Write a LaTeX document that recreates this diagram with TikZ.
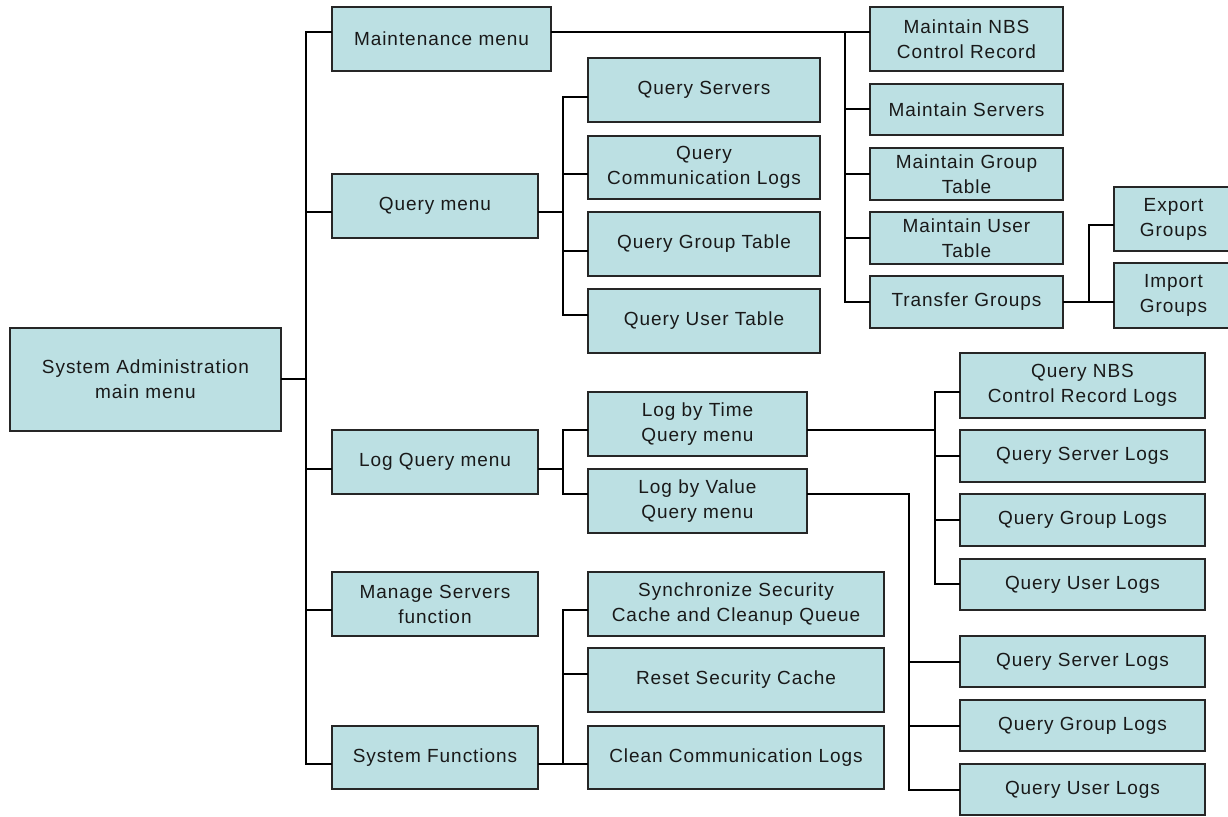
\documentclass[tikz,border=0pt]{standalone}
\usepackage{fontspec}
\setmainfont{Liberation Sans}
\newfontfamily\boxfont[LetterSpace=5]{Liberation Sans}
\definecolor{boxfill}{HTML}{BCE0E3}
\definecolor{boxline}{HTML}{262626}
\newcommand{\bx}[6]{%
  \pgfmathsetmacro\cx{(#2+#3)/2}\pgfmathsetmacro\cy{(#4+#5)/2}%
  \pgfmathsetmacro\ww{#3-#2}\pgfmathsetmacro\hh{#5-#4}%
  \node[box, minimum width=\ww pt, minimum height=\hh pt] (#1) at (\cx,\cy) {#6};}
% parent, parent y, trunk x, child, child y
\newcommand{\cn}[5]{\draw[conn] (#1.east |- 0,#2) -- (#3,#2) |- (#4.west |- 0,#5);}
\begin{document}
\begin{tikzpicture}[x=1pt,y=-1pt,
  box/.style={draw=boxline, fill=boxfill, line width=1.4pt, inner sep=0pt, outer sep=0pt,
    align=center, text=black!90, font=\boxfont\fontsize{19}{25}\selectfont},
  conn/.style={draw=black, line width=1.3pt}]
\useasboundingbox (0,0) rectangle (1228,816);
% level 1
\bx{main}{10}{281}{328}{431}{System Administration\\main menu}
% level 2
\bx{maint}{332}{551}{7}{71}{Maintenance menu}
\bx{qmenu}{332}{538}{174}{238}{Query menu}
\bx{lq}{332}{538}{430}{494}{Log Query menu}
\bx{ms}{332}{538}{572}{636}{Manage Servers\\function}
\bx{sf}{332}{538}{726}{789}{System Functions}
% query children
\bx{qs}{588}{820}{58}{122}{Query Servers}
\bx{qcl}{588}{820}{136}{199}{Query\\Communication Logs}
\bx{qgt}{588}{820}{212}{276}{Query Group Table}
\bx{qut}{588}{820}{289}{353}{Query User Table}
% log query children
\bx{lbt}{588}{807}{392}{456}{Log by Time\\Query menu}
\bx{lbv}{588}{807}{469}{533}{Log by Value\\Query menu}
% system functions children
\bx{ssc}{588}{884}{572}{636}{Synchronize Security\\Cache and Cleanup Queue}
\bx{rsc}{588}{884}{648}{712}{Reset Security Cache}
\bx{ccl}{588}{884}{726}{789}{Clean Communication Logs}
% maintenance children
\bx{mnbs}{870}{1063}{7}{71}{Maintain NBS\\Control Record}
\bx{msrv}{870}{1063}{84}{135}{Maintain Servers}
\bx{mgt}{870}{1063}{148}{200}{Maintain Group\\Table}
\bx{mut}{870}{1063}{212}{264}{Maintain User\\Table}
\bx{tg}{870}{1063}{276}{328}{Transfer Groups}
\bx{eg}{1114}{1233}{187}{251}{Export\\Groups}
\bx{ig}{1114}{1233}{263}{328}{Import\\Groups}
% log by time children
\bx{tnbs}{960}{1205}{353}{418}{Query NBS\\Control Record Logs}
\bx{tsl}{960}{1205}{430}{482}{Query Server Logs}
\bx{tgl}{960}{1205}{494}{546}{Query Group Logs}
\bx{tul}{960}{1205}{559}{610}{Query User Logs}
% log by value children
\bx{vsl}{960}{1205}{636}{687}{Query Server Logs}
\bx{vgl}{960}{1205}{700}{751}{Query Group Logs}
\bx{vul}{960}{1205}{764}{815}{Query User Logs}
% connectors from main
\cn{main}{379}{306}{maint}{32}
\cn{main}{379}{306}{qmenu}{212}
\cn{main}{379}{306}{lq}{469}
\cn{main}{379}{306}{ms}{610}
\cn{main}{379}{306}{sf}{764}
% query menu
\cn{qmenu}{212}{563}{qs}{97}
\cn{qmenu}{212}{563}{qcl}{174}
\cn{qmenu}{212}{563}{qgt}{251}
\cn{qmenu}{212}{563}{qut}{315}
% log query
\cn{lq}{469}{563}{lbt}{430}
\cn{lq}{469}{563}{lbv}{494}
% system functions
\cn{sf}{764}{563}{ssc}{610}
\cn{sf}{764}{563}{rsc}{674}
\cn{sf}{764}{563}{ccl}{764}
% maintenance
\cn{maint}{32}{845}{mnbs}{32}
\cn{maint}{32}{845}{msrv}{109}
\cn{maint}{32}{845}{mgt}{174}
\cn{maint}{32}{845}{mut}{238}
\cn{maint}{32}{845}{tg}{302}
% transfer groups
\cn{tg}{302}{1089}{eg}{225}
\cn{tg}{302}{1089}{ig}{302}
% log by time
\cn{lbt}{430}{935}{tnbs}{392}
\cn{lbt}{430}{935}{tsl}{456}
\cn{lbt}{430}{935}{tgl}{520}
\cn{lbt}{430}{935}{tul}{584}
% log by value
\cn{lbv}{494}{909}{vsl}{662}
\cn{lbv}{494}{909}{vgl}{726}
\cn{lbv}{494}{909}{vul}{790}
\end{tikzpicture}
\end{document}
